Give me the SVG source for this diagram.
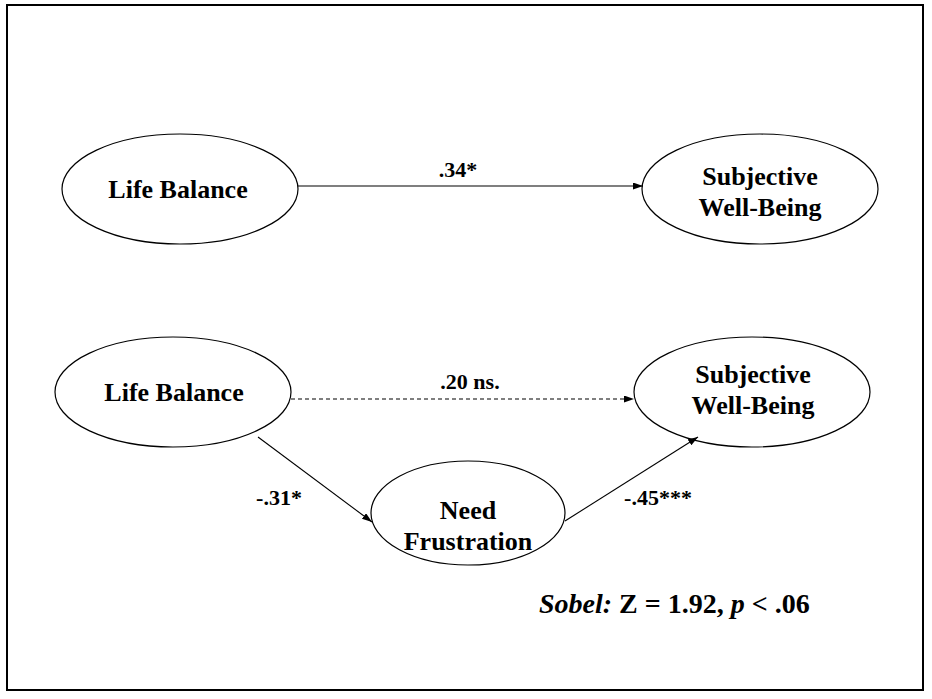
<svg xmlns="http://www.w3.org/2000/svg" width="932" height="699" viewBox="0 0 932 699">
  <style>
    .frame { fill: #ffffff; stroke: #000000; stroke-width: 2; }
    .node ellipse { fill: #ffffff; stroke: #000000; stroke-width: 1.2; }
    .node text { font-family: "Liberation Serif", "Times New Roman", serif; font-weight: bold; font-size: 26px; fill: #000000; text-anchor: middle; }
    .edge { stroke: #000000; stroke-width: 1.1; fill: none; marker-end: url(#arrow); }
    .dashed { stroke-dasharray: 4 3; }
    .label { font-family: "Liberation Serif", "Times New Roman", serif; font-weight: bold; font-size: 22px; fill: #000000; text-anchor: middle; }
    .note { font-family: "Liberation Serif", "Times New Roman", serif; font-weight: bold; font-size: 28px; fill: #000000; }
    .note .it { font-style: italic; }
  </style>
  <defs>
    <marker id="arrow" markerUnits="userSpaceOnUse" markerWidth="11" markerHeight="8" refX="10" refY="3.5" orient="auto">
      <path d="M0,0 L10,3.5 L0,7 z" fill="#000000"/>
    </marker>
  </defs>

  <rect class="frame" x="7" y="5" width="916" height="685"/>

  <!-- direct effect model -->
  <g id="lb-top" class="node">
    <ellipse cx="180" cy="189" rx="118" ry="55"/>
    <text x="178" y="198">Life Balance</text>
  </g>
  <g id="swb-top" class="node">
    <ellipse cx="760" cy="189" rx="118" ry="55"/>
    <text x="760" y="185">Subjective</text>
    <text x="760" y="216">Well-Being</text>
  </g>

  <!-- mediation model -->
  <g id="lb-bottom" class="node">
    <ellipse cx="173" cy="392" rx="118" ry="55"/>
    <text x="174" y="401">Life Balance</text>
  </g>
  <g id="swb-bottom" class="node">
    <ellipse cx="752" cy="392" rx="118" ry="55"/>
    <text x="753" y="383">Subjective</text>
    <text x="753" y="414">Well-Being</text>
  </g>
  <g id="need-frustration" class="node">
    <ellipse cx="468" cy="513" rx="97" ry="52"/>
    <text x="468" y="519">Need</text>
    <text x="468" y="550">Frustration</text>
  </g>

  <g id="connectors">
    <line class="edge" x1="298" y1="186" x2="643" y2="186"/>
    <line class="edge dashed" x1="291" y1="399" x2="634" y2="399"/>
    <line class="edge" x1="258" y1="437" x2="372" y2="522"/>
    <line class="edge" x1="565" y1="521" x2="698" y2="437"/>
    <text class="label" x="458" y="177">.34*</text>
    <text class="label" x="470" y="389">.20 ns.</text>
    <text class="label" x="279" y="505">-.31*</text>
    <text class="label" x="658" y="505">-.45***</text>
  </g>

  <text class="note" x="539" y="613"><tspan class="it">Sobel:</tspan> Z = 1.92, <tspan class="it">p</tspan> &lt; .06</text>
</svg>
